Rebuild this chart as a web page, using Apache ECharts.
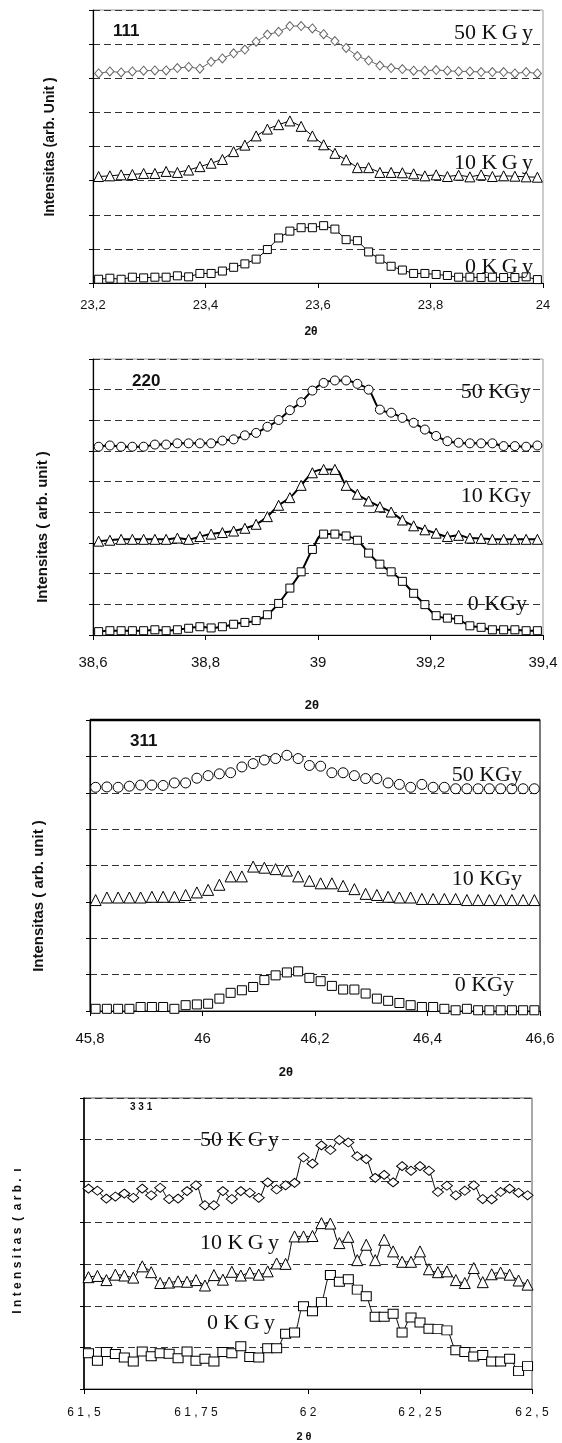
<!DOCTYPE html>
<html>
<head>
<meta charset="utf-8">
<script src="https://cdn.jsdelivr.net/npm/echarts@6/dist/echarts.min.js"></script>
<style>
  html, body { margin: 0; padding: 0; background: #fff; }
  #chart { width: 562px; height: 1443px; }
</style>
</head>
<body>
<div id="chart"></div>
<script>
// 2 theta positions of each peak scan
var x111 = [23.21,23.23,23.25,23.27,23.29,23.31,23.33,23.35,23.37,23.39,23.41,23.43,23.45,23.47,23.49,23.51,23.53,23.55,23.57,23.59,
            23.61,23.63,23.65,23.67,23.69,23.71,23.73,23.75,23.77,23.79,23.81,23.83,23.85,23.87,23.89,23.91,23.93,23.95,23.97,23.99];
var x220 = [38.61,38.63,38.65,38.67,38.69,38.71,38.73,38.75,38.77,38.79,38.81,38.83,38.85,38.87,38.89,38.91,38.93,38.95,38.97,38.99,
            39.01,39.03,39.05,39.07,39.09,39.11,39.13,39.15,39.17,39.19,39.21,39.23,39.25,39.27,39.29,39.31,39.33,39.35,39.37,39.39];
var x311 = [45.81,45.83,45.85,45.87,45.89,45.91,45.93,45.95,45.97,45.99,46.01,46.03,46.05,46.07,46.09,46.11,46.13,46.15,46.17,46.19,
            46.21,46.23,46.25,46.27,46.29,46.31,46.33,46.35,46.37,46.39,46.41,46.43,46.45,46.47,46.49,46.51,46.53,46.55,46.57,46.59];
var x331 = [61.51,61.53,61.55,61.57,61.59,61.61,61.63,61.65,61.67,61.69,61.71,61.73,61.75,61.77,61.79,61.81,61.83,61.85,61.87,61.89,
            61.91,61.93,61.95,61.97,61.99,62.01,62.03,62.05,62.07,62.09,62.11,62.13,62.15,62.17,62.19,62.21,62.23,62.25,62.27,62.29,
            62.31,62.33,62.35,62.37,62.39,62.41,62.43,62.45,62.47,62.49];

// intensities (offset, in grid-line units)
var p111_50 = [6.14,6.2,6.17,6.2,6.22,6.23,6.23,6.3,6.33,6.28,6.48,6.58,6.73,6.84,7.07,7.28,7.36,7.53,7.53,7.46,
               7.29,7.09,6.89,6.65,6.52,6.37,6.3,6.27,6.22,6.22,6.24,6.22,6.2,6.2,6.18,6.18,6.18,6.14,6.18,6.14];
var p111_10 = [3.12,3.14,3.17,3.18,3.21,3.21,3.27,3.24,3.31,3.41,3.51,3.62,3.85,4.04,4.31,4.51,4.64,4.75,4.59,4.31,
               4.05,3.8,3.61,3.38,3.38,3.24,3.24,3.23,3.2,3.14,3.17,3.12,3.16,3.11,3.17,3.12,3.14,3.13,3.11,3.1];
var p111_0 = [0.11,0.14,0.11,0.17,0.15,0.17,0.17,0.21,0.18,0.28,0.28,0.35,0.46,0.56,0.7,0.98,1.32,1.52,1.62,1.62,
              1.68,1.58,1.27,1.24,0.91,0.7,0.49,0.38,0.28,0.28,0.25,0.22,0.17,0.17,0.16,0.17,0.16,0.16,0.18,0.1];

var p220_50 = [6.14,6.18,6.14,6.14,6.14,6.21,6.21,6.25,6.25,6.25,6.25,6.34,6.38,6.51,6.59,6.79,7.01,7.33,7.59,7.97,
               8.22,8.3,8.3,8.19,8.0,7.35,7.25,7.08,6.92,6.7,6.49,6.32,6.27,6.25,6.25,6.25,6.16,6.16,6.14,6.18];
var p220_10 = [3.06,3.09,3.12,3.12,3.12,3.12,3.12,3.16,3.12,3.21,3.29,3.34,3.39,3.48,3.61,3.86,4.23,4.48,4.88,5.29,
               5.4,5.4,4.88,4.59,4.37,4.18,4.01,3.75,3.56,3.43,3.32,3.21,3.25,3.16,3.15,3.12,3.12,3.12,3.12,3.12];
var p220_0 = [0.11,0.14,0.14,0.14,0.14,0.17,0.14,0.17,0.22,0.27,0.23,0.27,0.35,0.41,0.47,0.66,1.03,1.53,2.06,2.79,
              3.29,3.29,3.23,3.09,2.67,2.31,2.06,1.75,1.36,0.99,0.63,0.55,0.5,0.3,0.25,0.17,0.17,0.17,0.14,0.14];

var p311_50 = [6.15,6.16,6.15,6.18,6.21,6.21,6.2,6.27,6.27,6.4,6.47,6.52,6.55,6.71,6.8,6.9,6.94,7.03,6.94,6.75,
               6.73,6.55,6.55,6.47,6.39,6.39,6.27,6.23,6.15,6.23,6.15,6.15,6.11,6.11,6.11,6.11,6.11,6.11,6.11,6.11];
var p311_10 = [3.05,3.12,3.12,3.12,3.12,3.14,3.14,3.14,3.19,3.26,3.33,3.47,3.7,3.7,3.97,3.94,3.9,3.86,3.7,3.58,
               3.51,3.51,3.44,3.35,3.22,3.19,3.14,3.12,3.12,3.08,3.08,3.08,3.08,3.05,3.05,3.05,3.05,3.05,3.05,3.05];
var p311_0 = [0.06,0.06,0.06,0.06,0.11,0.11,0.11,0.06,0.16,0.18,0.2,0.34,0.5,0.57,0.66,0.85,0.98,1.06,1.09,0.91,
              0.82,0.69,0.59,0.59,0.48,0.34,0.28,0.22,0.16,0.11,0.11,0.06,0.02,0.06,0.02,0.02,0.02,0.02,0.02,0.02];

var p331_50 = [4.82,4.77,4.58,4.63,4.7,4.6,4.82,4.66,4.84,4.57,4.58,4.76,4.9,4.42,4.42,4.76,4.57,4.76,4.72,4.6,
               4.97,4.8,4.9,4.96,5.57,5.42,5.86,5.75,5.99,5.93,5.6,5.53,5.08,5.15,4.97,5.36,5.25,5.36,5.25,4.74,
               4.89,4.66,4.77,4.9,4.57,4.56,4.74,4.82,4.72,4.66];
var p331_10 = [2.69,2.72,2.62,2.75,2.73,2.68,2.95,2.81,2.55,2.56,2.59,2.58,2.62,2.49,2.74,2.63,2.82,2.73,2.8,2.75,
               2.83,3.02,3.01,3.67,3.67,3.68,3.99,3.98,3.51,3.66,3.1,3.47,3.1,3.59,3.31,3.06,3.06,3.31,2.88,2.81,
               2.83,2.62,2.55,2.91,2.57,2.76,2.8,2.75,2.61,2.51];
var p331_0 = [0.86,0.68,0.89,0.84,0.76,0.66,0.9,0.79,0.86,0.85,0.74,0.9,0.68,0.73,0.66,0.89,0.86,1.03,0.77,0.76,
              0.98,0.98,1.33,1.36,1.99,1.87,2.09,2.74,2.58,2.64,2.39,2.23,1.74,1.74,1.81,1.36,1.72,1.6,1.45,1.44,
              1.41,0.93,0.89,0.78,0.82,0.66,0.66,0.73,0.43,0.55];

// tick labels
var ticks111 = ['23,2', '23,4', '23,6', '23,8', '24'];
var ticks220 = ['38,6', '38,8', '39', '39,2', '39,4'];
var ticks311 = ['45,8', '46', '46,2', '46,4', '46,6'];
var ticks331 = ['6 1 , 5', '6 1 , 7 5', '6 2', '6 2 , 2 5', '6 2 , 5'];

var SANS = '"Liberation Sans", Arial, sans-serif';
var SERIF = '"Liberation Serif", "Times New Roman", serif';

var chart = echarts.init(document.getElementById('chart'));

var grids = [
  { left: 93, top: 10, width: 450, height: 273, show: true, borderColor: '#9a9a9a', borderWidth: 1 },
  { left: 93, top: 359, width: 450, height: 276, show: true, borderColor: '#9a9a9a', borderWidth: 1 },
  { left: 90, top: 720, width: 450, height: 291, show: true, borderColor: '#222', borderWidth: 1.2 },
  { left: 84, top: 1098, width: 448, height: 291, show: true, borderColor: '#555', borderWidth: 1 }
];

function xAx(i, min, max, step, labels, fs, margin) {
  return {
    gridIndex: i, type: 'value', min: min, max: max, interval: step,
    axisLine: { show: true, lineStyle: { color: '#000', width: 1.2 } },
    axisTick: { show: true, inside: false, length: 5, lineStyle: { color: '#000' } },
    axisLabel: {
      color: '#111', fontSize: fs, fontFamily: SANS, margin: margin,
      formatter: function (v, idx) { return labels[idx]; }
    },
    splitLine: { show: false }
  };
}

function yAx(i, max, lw) {
  return {
    gridIndex: i, type: 'value', min: 0, max: max, interval: 1,
    axisLine: { show: true, lineStyle: { color: '#000', width: lw } },
    axisTick: { show: true, inside: false, length: 4, lineStyle: { color: '#000' } },
    axisLabel: { show: false },
    splitLine: { show: true, lineStyle: { color: '#333', width: 1, type: [7, 4] } }
  };
}

function line(i, xs, ys, sym, size, stroke, lw, smooth, lineOpacity) {
  return {
    type: 'line', xAxisIndex: i, yAxisIndex: i,
    data: xs.map(function (x, k) { return [x, ys[k]]; }),
    symbol: sym, symbolSize: size, showSymbol: true, smooth: smooth,
    itemStyle: { color: '#fff', borderColor: stroke, borderWidth: 1 },
    lineStyle: { color: stroke, width: lw, opacity: lineOpacity },
    z: 3, silent: true
  };
}

function txt(text, x, y, font, size, weight, align) {
  return {
    type: 'text', x: x, y: y, z: 10,
    style: { text: text, fill: '#111', fontFamily: font, fontSize: size, fontWeight: weight || 'normal',
             align: align || 'left', verticalAlign: 'middle' }
  };
}

function ytitle(text, x, y, size) {
  return {
    type: 'text', x: x, y: y, rotation: Math.PI / 2, z: 10,
    style: { text: text, fill: '#111', fontFamily: SANS, fontSize: size, fontWeight: 'bold',
             align: 'center', verticalAlign: 'middle' }
  };
}

var option = {
  animation: false,
  backgroundColor: '#fff',
  grid: grids,
  xAxis: [
    xAx(0, 23.2, 24, 0.2, ticks111, 13, 16),
    xAx(1, 38.6, 39.4, 0.2, ticks220, 15, 20),
    xAx(2, 45.8, 46.6, 0.2, ticks311, 15, 20),
    xAx(3, 61.5, 62.5, 0.25, ticks331, 12, 18)
  ],
  yAxis: [
    yAx(0, 8, 1.2),
    yAx(1, 9, 1.2),
    yAx(2, 8, 1.2),
    yAx(3, 7, 1.6)
  ],
  series: [
    line(0, x111, p111_50, 'diamond', [8, 9], '#666', 1, false, 1),
    line(0, x111, p111_10, 'triangle', 10, '#000', 1, false, 1),
    line(0, x111, p111_0, 'rect', 8, '#000', 1, false, 1),

    line(1, x220, p220_50, 'circle', 9, '#000', 2, 0.4, 1),
    line(1, x220, p220_10, 'triangle', 10, '#000', 2, 0.4, 1),
    line(1, x220, p220_0, 'rect', 8, '#000', 2, 0.4, 1),

    line(2, x311, p311_50, 'circle', 10, '#000', 1, false, 0),
    line(2, x311, p311_10, 'triangle', 11, '#000', 1, false, 0),
    line(2, x311, p311_0, 'rect', 9, '#000', 1, false, 0),

    line(3, x331, p331_50, 'diamond', [11, 9], '#000', 1, 0.3, 1),
    line(3, x331, p331_10, 'triangle', 11, '#000', 1, 0.3, 1),
    line(3, x331, p331_0, 'rect', [10, 9], '#000', 1, 0.3, 1)
  ],
  graphic: [
    // panel 111
    txt('111', 113, 31, SANS, 17, 'bold'),
    txt('50 K\u2009G\u2009y', 533, 33, SERIF, 22, 'normal', 'right'),
    txt('10 K\u2009G\u2009y', 533, 163, SERIF, 22, 'normal', 'right'),
    txt('0 K\u2009G\u2009y', 533, 267, SERIF, 22, 'normal', 'right'),
    ytitle('Intensitas (arb. Unit )', 50, 147, 14),
    txt('2θ', 311, 332, SANS, 12, 'bold', 'center'),

    // panel 220
    txt('220', 132, 381, SANS, 17, 'bold'),
    txt('50 KGy', 531, 392, SERIF, 22, 'normal', 'right'),
    txt('10 KGy', 531, 496, SERIF, 22, 'normal', 'right'),
    txt('0 KGy', 527, 604, SERIF, 22, 'normal', 'right'),
    ytitle('Intensitas ( arb. unit )', 43, 527, 15),
    txt('2θ', 312, 705, SANS, 13, 'bold', 'center'),

    // panel 311
    { type: 'line', z: 9, shape: { x1: 90, y1: 720, x2: 540, y2: 720 }, style: { stroke: '#000', lineWidth: 2.5 } },
    txt('311', 130, 741, SANS, 17, 'bold'),
    txt('50 KGy', 522, 775, SERIF, 22, 'normal', 'right'),
    txt('10 KGy', 522, 879, SERIF, 22, 'normal', 'right'),
    txt('0 KGy', 514, 985, SERIF, 22, 'normal', 'right'),
    ytitle('Intensitas ( arb. unit )', 39, 896, 15),
    txt('2θ', 286, 1072, SANS, 13, 'bold', 'center'),

    // panel 331
    txt('3 3 1', 130, 1107, SANS, 10, 'bold'),
    txt('50 K\u2009G\u2009y', 200, 1140, SERIF, 22, 'normal'),
    txt('10 K\u2009G\u2009y', 200, 1243, SERIF, 22, 'normal'),
    txt('0 K\u2009G\u2009y', 207, 1323, SERIF, 22, 'normal'),
    ytitle('I n t e n s i t a s  (  a r b .  ı', 18, 1241, 12),
    txt('2 θ', 304, 1437, SANS, 11, 'bold', 'center')
  ]
};

chart.setOption(option);
</script>
</body>
</html>
